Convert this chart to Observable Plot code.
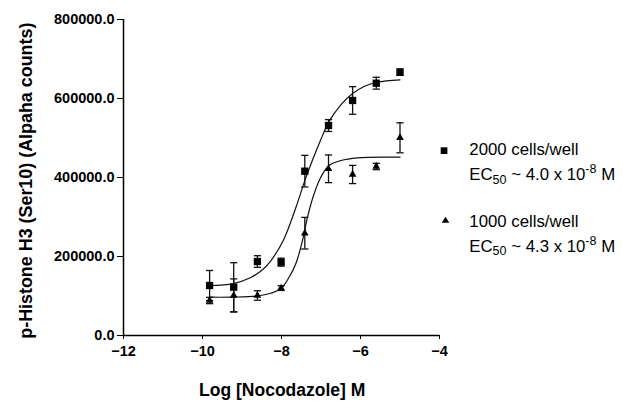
<!DOCTYPE html>
<html><head><meta charset="utf-8">
<script src="https://cdn.jsdelivr.net/npm/d3@7"></script>
<script src="https://cdn.jsdelivr.net/npm/@observablehq/plot@0.6"></script>
<style>
html,body{margin:0;padding:0;background:#fff;}
#chart{width:623px;height:401px;}
svg [aria-label^="x-axis"] line, svg [aria-label^="y-axis"] line{stroke-width:1.5px;}
</style></head><body><div id="chart"></div>
<script>
// Data
const logConc = [-9.82, -9.21, -8.61, -8.01, -7.41, -6.81, -6.20, -5.60, -5.00];
const cells2000 = [126600, 122300, 187300, 185600, 416000, 531600, 595000, 638700, 666600];
const cells2000Err = [38000, 62000, 14700, 10000, 40000, 15000, 35000, 15000, 8000];
const cells1000 = [88600, 101300, 101300, 120000, 259000, 422000, 407600, 427800, 500500];
const cells1000Err = [8000, 42000, 12000, 6000, 40000, 35000, 23000, 8000, 38000];

// fitted curves, points
const fit2000X = [-9.815, -9.225, -8.777, -8.473, -8.271, -7.949, -7.638, -7.385, -7.005, -6.795, -6.497, -6.200, -5.909, -5.570, -5.000];
const fit2000Y = [126600, 131500, 147000, 167000, 189000, 242000, 323500, 399000, 496000, 542000, 584000, 612500, 630400, 641300, 647300];
const fit1000X = [-9.815, -9.225, -8.608, -8.271, -8.018, -7.808, -7.638, -7.468, -7.342, -7.175, -7.005, -6.795, -6.497, -6.076, -5.000];
const fit1000Y = [97000, 97200, 100000, 107000, 118200, 147600, 181500, 240500, 299500, 358700, 400800, 430400, 443000, 449900, 451400];

const xTicks = [-12, -10, -8, -6, -4];
const yTicks = [0, 200000, 400000, 600000, 800000];
const xLabel = "Log [Nocodazole] M";
const yLabel = "p-Histone H3 (Ser10) (Alpaha counts)";
const seriesNames = ["2000 cells/well", "1000 cells/well"];
const ec50Values = ["4.0", "4.3"];

const pts2000 = logConc.map((x, i) => ({x, y: cells2000[i], e: cells2000Err[i]}));
const pts1000 = logConc.map((x, i) => ({x, y: cells1000[i], e: cells1000Err[i]}));
const fit2000 = fit2000X.map((x, i) => ({x, y: fit2000Y[i]}));
const fit1000 = fit1000X.map((x, i) => ({x, y: fit1000Y[i]}));

const capSymbol = {draw(ctx, size) { const w = Math.sqrt(size / Math.PI); ctx.moveTo(-w, 0); ctx.lineTo(w, 0); }};
const ink = "#111";

function errMarks(data) {
  return [
    Plot.ruleX(data, {x: "x", y1: d => d.y - d.e, y2: d => d.y + d.e, stroke: ink, strokeWidth: 1.3}),
    Plot.dot(data, {x: "x", y: d => d.y + d.e, symbol: capSymbol, r: 3.6, stroke: ink, strokeWidth: 1.3, fill: "none"}),
    Plot.dot(data, {x: "x", y: d => d.y - d.e, symbol: capSymbol, r: 3.6, stroke: ink, strokeWidth: 1.3, fill: "none"})
  ];
}

const plot = Plot.plot({
  width: 623, height: 401,
  marginLeft: 123, marginRight: 184, marginTop: 19, marginBottom: 66,
  style: {fontFamily: "'Liberation Sans', Arial, sans-serif", fontSize: "14.5px", fontWeight: "bold", background: "#fff", color: "#000"},
  x: {domain: [-12, -4], ticks: xTicks, tickSize: 4, tickPadding: 6, label: null},
  y: {domain: [0, 800000], ticks: yTicks, tickSize: 6, tickPadding: 3, tickFormat: d => d.toFixed(1), label: null},
  marks: [
    ...errMarks(pts2000),
    ...errMarks(pts1000),
    Plot.line(fit2000, {x: "x", y: "y", curve: "catmull-rom", stroke: ink, strokeWidth: 1.2}),
    Plot.line(fit1000, {x: "x", y: "y", curve: "catmull-rom", stroke: ink, strokeWidth: 1.2}),
    Plot.dot(pts2000, {x: "x", y: "y", symbol: "square", r: 4.12, fill: "#000", stroke: "none"}),
    Plot.dot(pts1000, {x: "x", y: "y", symbol: "triangle", r: 2.85, fill: "#000", stroke: "none"}),
    Plot.ruleY([0], {stroke: "#000", strokeWidth: 1.5}),
    Plot.ruleX([-12], {stroke: "#000", strokeWidth: 1.5}),
    Plot.text([xLabel], {frameAnchor: "bottom", textAnchor: "middle", lineAnchor: "middle", dy: 54.5, dx: 0.7, fontSize: 17.5, fontWeight: "bold", fill: "#000"}),
    Plot.text([yLabel], {frameAnchor: "left", textAnchor: "middle", lineAnchor: "middle", rotate: -90, dx: -97.5, dy: 3.2, fontSize: 17.9, fontWeight: "bold", fill: "#000"})
  ]
});

// Legend
const svg = d3.select(plot);
const lg = svg.append("g")
  .attr("font-family", "'Liberation Sans', Arial, sans-serif")
  .attr("font-weight", "normal")
  .attr("font-size", 16.8)
  .attr("text-anchor", "start")
  .attr("fill", "#000");
const rows = [{y: 155, marker: "square"}, {y: 226.7, marker: "triangle"}];
rows.forEach((r, i) => {
  if (r.marker === "square") {
    lg.append("rect").attr("x", 440.7).attr("y", r.y - 7.7).attr("width", 6.7).attr("height", 6.7);
  } else {
    const cx = 445.5, cy = r.y - 7;
    lg.append("path").attr("d", `M${cx},${cy - 3}L${cx + 3.8},${cy + 3}L${cx - 3.8},${cy + 3}Z`);
  }
  lg.append("text").attr("x", 469.3).attr("y", r.y).text(seriesNames[i]);
  const t = lg.append("text").attr("x", 469.3).attr("y", r.y + 25);
  t.append("tspan").text("EC");
  t.append("tspan").attr("font-size", 12.5).attr("dy", 3.5).text("50");
  t.append("tspan").attr("dy", -3.5).text(" ~ " + ec50Values[i] + " x 10");
  t.append("tspan").attr("font-size", 12.5).attr("dy", -7).text("-8");
  t.append("tspan").attr("dy", 7).text(" M");
});

document.getElementById("chart").append(plot);
</script>
</body></html>
